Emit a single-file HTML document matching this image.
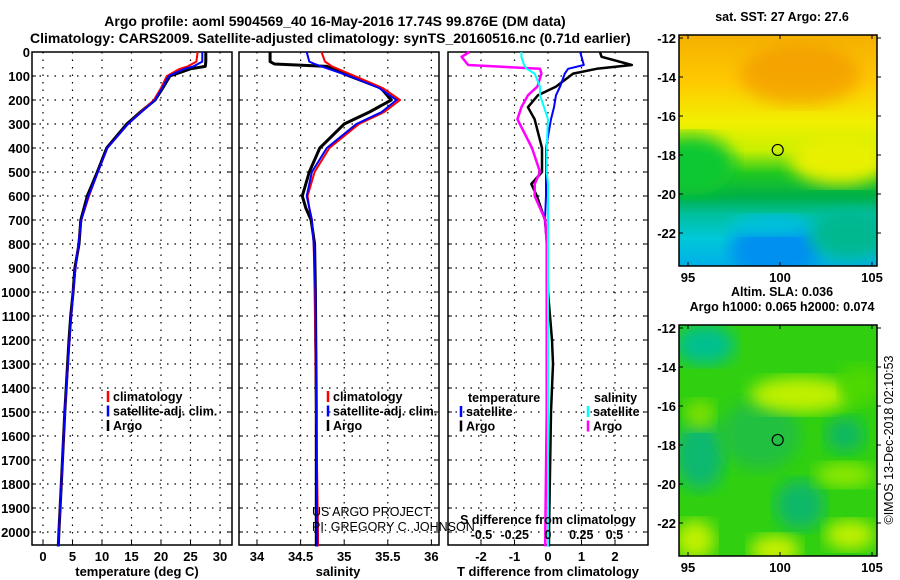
<!DOCTYPE html>
<html><head><meta charset="utf-8">
<style>
body{margin:0;background:#fff;}
svg{display:block;font-family:"Liberation Sans",sans-serif;font-weight:bold;}
</style></head>
<body>
<svg id="fig" width="900" height="580" viewBox="0 0 900 580" xmlns="http://www.w3.org/2000/svg">
<defs>
<linearGradient id="sstGrad" x1="0" y1="0" x2="0" y2="1">
<stop offset="0" stop-color="#f4b000"/><stop offset="0.2" stop-color="#ffc800"/>
<stop offset="0.38" stop-color="#f0f000"/><stop offset="0.5" stop-color="#c8f000"/>
<stop offset="0.6" stop-color="#20c820"/><stop offset="0.7" stop-color="#00b048"/>
<stop offset="0.78" stop-color="#00c0a0"/><stop offset="0.88" stop-color="#00c8d8"/>
<stop offset="1" stop-color="#00b0e8"/>
</linearGradient>
<filter id="blur"><feGaussianBlur stdDeviation="8"/></filter>
<clipPath id="m1c"><rect x="679" y="35" width="198" height="231"/></clipPath>
<clipPath id="m2c"><rect x="679" y="325" width="198" height="231"/></clipPath>
</defs>
<text x="335" y="26" font-size="14" text-anchor="middle">Argo profile: aoml 5904569_40 16-May-2016 17.74S 99.876E (DM data)</text>
<text x="30" y="43" font-size="14">Climatology: CARS2009. Satellite-adjusted climatology: synTS_20160516.nc (0.71d earlier)</text>
<g id="panels"></g>
<g id="maps"></g>
</svg>
<script>
// ---- data ----
const tDepth=[0,40,60,70,100,150,200,250,300,400,500,600,700,800,900,1000,1100,1200,1500,1800,2000,2060];
const tArgo=[27.6,27.6,27.5,25,21.5,20.3,19,16.5,14.2,10.8,9.2,7.5,6.4,6.1,5.4,5.1,4.7,4.4,3.7,3.1,2.7,2.6];
const tClim=[26.2,26,24.5,23.2,21,20,18.8,16.6,14.4,10.9,9.3,7.8,6.5,6.0,5.5,5.1,4.8,4.5,3.7,3.1,2.7,2.6];
const tSat=[27,27,25.5,24,21.3,20.2,19,16.7,14.4,10.9,9.3,7.7,6.5,6.0,5.5,5.1,4.8,4.5,3.7,3.1,2.7,2.6];
const sDepth=[0,40,50,60,100,150,200,250,300,400,500,600,650,700,800,1000,1500,2000,2060];
const sArgo=[34.15,34.15,34.2,34.8,35.06,35.42,35.54,35.29,35.0,34.72,34.6,34.52,34.56,34.62,34.66,34.67,34.68,34.68,34.68];
const sClim=[34.74,34.78,34.82,34.86,35.12,35.44,35.64,35.46,35.17,34.83,34.66,34.58,34.6,34.63,34.65,34.66,34.68,34.7,34.7];
const sSat=[34.57,34.6,34.66,34.74,35.06,35.4,35.6,35.43,35.14,34.8,34.63,34.57,34.6,34.63,34.65,34.67,34.68,34.69,34.69];
const dDepth=[0,20,54,70,90,144,180,230,280,400,500,550,600,700,800,1000,1200,1300,1500,2000,2060];
const dTArgo=[1.55,1.6,2.5,1.45,0.75,0.24,-0.3,-0.6,-0.4,-0.18,-0.18,-0.5,-0.33,-0.09,-0.03,0,0.12,0.15,0.09,0.03,0.03];
const dTSat=[0.96,1.0,1.07,0.6,0.5,0.36,0.24,0.18,0.09,-0.06,-0.06,-0.06,-0.06,-0.09,-0.03,0,0,0,0,0,0];
const dSArgo=[-0.59,-0.65,-0.6,-0.06,-0.05,-0.08,-0.15,-0.2,-0.23,-0.12,-0.06,-0.1,-0.1,-0.02,-0.01,-0.01,-0.01,-0.01,-0.01,-0.02,-0.02];
const dSSat=[-0.2,-0.2,-0.18,-0.16,-0.1,-0.06,-0.06,-0.03,0,-0.01,-0.01,0,0,0,0,0,0,0,0,0,0];
const depthTicks=[0,100,200,300,400,500,600,700,800,900,1000,1100,1200,1300,1400,1500,1600,1700,1800,1900,2000];
const tTicks=[0,5,10,15,20,25,30];
const sTicks=[34,34.5,35,35.5,36];
const dTTicks=[-2,-1,0,1,2];
const dSTicks=[-0.5,-0.25,0,0.25,0.5];
const argoLon=99.876, argoLat=-17.74;
const lonTicks=[95,100,105];
const latTicks=[-12,-14,-16,-18,-20,-22];

const NS="http://www.w3.org/2000/svg";
function mk(tag,attrs,parent){const el=document.createElementNS(NS,tag);for(const k in attrs)el.setAttribute(k,attrs[k]);parent.appendChild(el);return el;}
function txt(s,attrs,parent){const el=mk('text',attrs,parent);el.textContent=s;return el;}
const plotTop=52, plotBot=545;
const yD=d=>plotTop+d*0.24;
const P=document.getElementById('panels');

function panel(name,x0,x1,xs,ticks,fmt,gridTicks){
  const g=mk('g',{},P);
  
  
  for(const d of depthTicks){if(d===0)continue;const l=mk('line',{x1:x0,x2:x1,y1:yD(d),y2:yD(d),stroke:'#000','stroke-dasharray':'1.5,6','stroke-width':1.2},g);
    
    
    mk('line',{x1:x0,x2:x0+4,y1:yD(d),y2:yD(d),stroke:'#000'},g);mk('line',{x1:x1-4,x2:x1,y1:yD(d),y2:yD(d),stroke:'#000'},g);}
  for(const t of gridTicks){const x=xs(t);const l=mk('line',{x1:x,x2:x,y1:plotTop,y2:plotBot,stroke:'#000','stroke-dasharray':'1.5,6','stroke-width':1.2},g);
    
    
    mk('line',{x1:x,x2:x,y1:plotBot-4,y2:plotBot,stroke:'#000'},g);}
  for(const t of ticks){const el=txt(fmt(t),{x:xs(t),y:561,'font-size':13,'text-anchor':'middle'},g);
    
    }
  mk('rect',{x:x0,y:plotTop,width:x1-x0,height:plotBot-plotTop,fill:'none',stroke:'#000','stroke-width':1.5},g);
  return g;
}
function line(g,xs,vals,depths,color,w,name){
  const pts=vals.map((v,i)=>xs(v).toFixed(1)+','+yD(depths[i]).toFixed(1)).join(' ');
  const p=mk('polyline',{points:pts,fill:'none',stroke:color,'stroke-width':w,'stroke-linejoin':'round'},g);
  
  
}
function legend(g,x,y,items){
  items.forEach((it,i)=>{const yy=y+i*14.5;
    mk('line',{x1:x,x2:x,y1:yy-10,y2:yy+1,stroke:it[1],'stroke-width':2.5},g);
    const el=txt(it[0],{x:x+5,y:yy,'font-size':12.5},g);
    
    });
}
let e;
// panel 1
const xT=t=>43+t*5.9;
const g1=panel('temperature-panel',32,232,xT,tTicks,String,tTicks);
depthTicks.forEach(d=>{const el=txt(String(d),{x:30,y:yD(d)+5,'font-size':13,'text-anchor':'end'},g1);
  
  });
line(g1,xT,tArgo,tDepth,'#000',3,'argo-temperature-line');
line(g1,xT,tClim,tDepth,'#f00',2,'climatology-temperature-line');
line(g1,xT,tSat,tDepth,'#00f',2,'satellite-temperature-line');
legend(g1,108,401,[['climatology','#f00'],['satellite-adj. clim.','#00f'],['Argo','#000']]);
e=txt('temperature (deg C)',{x:137,y:576,'font-size':13,'text-anchor':'middle'},g1);


// panel 2
const xS=s=>257+(s-34)*87.2;
const g2=panel('salinity-panel',239,439,xS,sTicks,String,sTicks);
line(g2,xS,sArgo,sDepth,'#000',3,'argo-salinity-line');
line(g2,xS,sClim,sDepth,'#f00',2,'climatology-salinity-line');
line(g2,xS,sSat,sDepth,'#00f',2,'satellite-salinity-line');
legend(g2,328,401,[['climatology','#f00'],['satellite-adj. clim.','#00f'],['Argo','#000']]);
e=txt('salinity',{x:338,y:576,'font-size':13,'text-anchor':'middle'},g2);


e=txt('US ARGO PROJECT',{x:312,y:516,'font-size':12.5,'font-weight':'normal'},P);


e=txt('PI: GREGORY C. JOHNSON',{x:312,y:531,'font-size':12.5,'font-weight':'normal'},P);


// panel 3
const xdT=t=>548+t*33.5;
const xdS=s=>548+s*133;
const g3=panel('difference-panel',448,648,xdT,dTTicks,String,dTTicks);
line(g3,xdT,dTArgo,dDepth,'#000',2.5,'argo-t-difference-line');
line(g3,xdT,dTSat,dDepth,'#00f',2,'satellite-t-difference-line');
line(g3,xdS,dSArgo,dDepth,'#f0f',2.5,'argo-s-difference-line');
line(g3,xdS,dSSat,dDepth,'#0ff',2,'satellite-s-difference-line');
e=txt('temperature',{x:468,y:402,'font-size':12.5},g3);


legend(g3,461,416,[['satellite','#00f'],['Argo','#000']]);
e=txt('salinity',{x:594,y:402,'font-size':12.5},g3);


legend(g3,588,416,[['satellite','#0ff'],['Argo','#f0f']]);
e=txt('S difference from climatology',{x:548,y:524,'font-size':12.5,'text-anchor':'middle'},g3);


dSTicks.forEach(s=>{const el=txt(String(s),{x:xdS(s),y:539,'font-size':12.5,'text-anchor':'middle'},g3);
  
  });
e=txt('T difference from climatology',{x:548,y:576,'font-size':13,'text-anchor':'middle'},g3);



// ---- maps ----
const M=document.getElementById('maps');
const xL=lon=>688+(lon-95)*18.4;
function mapFrame(name,y0,title,draw){
  const yLat=lat=>y0+3+(-12-lat)*19.5;
  const g=mk('g',{},M);
  
  
  const inner=mk('g',{'clip-path':'url(#'+(y0<100?'m1c':'m2c')+')'},g);
  draw(inner,y0);
  const c=mk('circle',{cx:xL(argoLon),cy:yLat(argoLat),r:5.5,fill:'none',stroke:'#000','stroke-width':1.2},g);
  
  
  mk('rect',{x:679,y:y0,width:198,height:231,fill:'none',stroke:'#000','stroke-width':1.5},g);
  lonTicks.forEach(l=>{mk('line',{x1:xL(l),x2:xL(l),y1:y0,y2:y0+4,stroke:'#000'},g);mk('line',{x1:xL(l),x2:xL(l),y1:y0+231,y2:y0+227,stroke:'#000'},g);
    const t=txt(String(l),{x:xL(l),y:y0+247,'font-size':13,'text-anchor':'middle'},g);
    
    });
  latTicks.forEach(l=>{mk('line',{x1:877,x2:881,y1:yLat(l),y2:yLat(l),stroke:'#000'},g);mk('line',{x1:679,x2:683,y1:yLat(l),y2:yLat(l),stroke:'#000'},g);
    const t=txt(String(l),{x:676,y:yLat(l)+5,'font-size':13,'text-anchor':'end'},g);
    
    });
  title.forEach((s,i)=>{const t=txt(s,{x:782,y:y0-14-(title.length-1-i)*15,'font-size':12.5,'text-anchor':'middle'},g);
    
    });
}
mapFrame('sst-map',35,['sat. SST: 27 Argo: 27.6'],(g,y0)=>{
  mk('rect',{x:679,y:y0,width:198,height:231,fill:'url(#sstGrad)'},g);
  mk('ellipse',{cx:690,cy:y0+130,rx:45,ry:30,fill:'#10c830',filter:'url(#blur)'},g);
  mk('ellipse',{cx:840,cy:y0+125,rx:50,ry:25,fill:'#e8f000',filter:'url(#blur)'},g);
  mk('ellipse',{cx:800,cy:y0+40,rx:60,ry:30,fill:'#f09000',opacity:0.6,filter:'url(#blur)'},g);
  mk('ellipse',{cx:775,cy:y0+215,rx:45,ry:30,fill:'#0090f0',filter:'url(#blur)'},g);
  mk('ellipse',{cx:850,cy:y0+200,rx:40,ry:25,fill:'#00b890',filter:'url(#blur)'},g);
  mk('ellipse',{cx:770,cy:y0+190,rx:40,ry:10,fill:'#00c8d8',filter:'url(#blur)'},g);
});
mapFrame('sla-map',325,['Altim. SLA: 0.036','Argo h1000: 0.065 h2000: 0.074'],(g,y0)=>{
  mk('rect',{x:679,y:y0,width:198,height:231,fill:'#30d010'},g);
  [[705,20,30,20,'#00c090'],[700,130,25,35,'#10b870'],[800,180,25,25,'#10b868'],[845,110,20,18,'#10b860'],[760,110,40,35,'#20c040'],
   [800,70,50,18,'#c0f000'],[700,90,15,15,'#80e000'],[845,150,30,12,'#90e800'],[695,215,20,20,'#c0f000'],[775,225,25,15,'#c8f000'],[850,210,25,15,'#c0f000'],[860,60,20,20,'#50d800']]
   .forEach(b=>mk('ellipse',{cx:b[0],cy:y0+b[1],rx:b[2],ry:b[3],fill:b[4],filter:'url(#blur)'},g));
});
e=txt('©IMOS 13-Dec-2018 02:10:53',{x:0,y:0,'font-size':12.5,'font-weight':'normal','text-anchor':'middle',transform:'translate(893,440) rotate(-90)'},M);


</script>
</body></html>
